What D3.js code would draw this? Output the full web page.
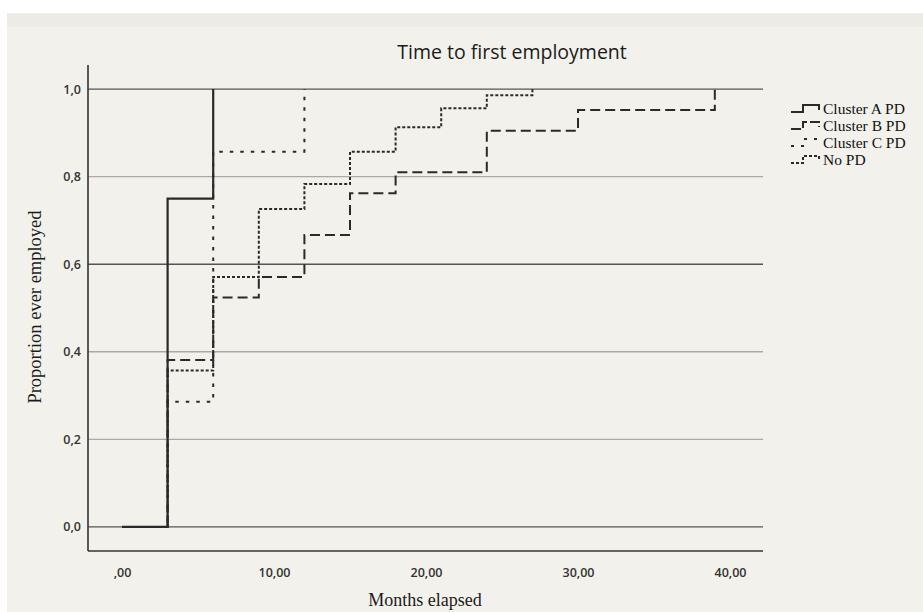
<!DOCTYPE html>
<html>
<head>
<meta charset="utf-8">
<script src="https://cdn.jsdelivr.net/npm/d3@7"></script>
<style>
  html, body { margin: 0; padding: 0; background: #ffffff; }
  svg { display: block; }
</style>
</head>
<body>
<svg id="chart" width="923" height="612"></svg>
<script>
// ---- Data ----
const seriesNames = ["Cluster A PD", "Cluster B PD", "Cluster C PD", "No PD"];
const timesA = [0, 3, 6];
const valuesA = [0, 0.75, 1.0];
const timesB = [0, 3, 6, 9, 12, 15, 18, 24, 30, 39];
const valuesB = [0, 0.381, 0.524, 0.571, 0.667, 0.762, 0.810, 0.905, 0.952, 1.0];
const timesC = [0, 3, 6, 12];
const valuesC = [0, 0.286, 0.857, 1.0];
const timesNo = [0, 3, 6, 9, 12, 15, 18, 21, 24, 27];
const valuesNo = [0, 0.357, 0.571, 0.726, 0.783, 0.857, 0.913, 0.956, 0.986, 1.0];
const xTicks = [0, 10, 20, 30, 40];
const xTickLabels = [",00", "10,00", "20,00", "30,00", "40,00"];
const yTicks = [0, 0.2, 0.4, 0.6, 0.8, 1.0];
const yTickLabels = ["0,0", "0,2", "0,4", "0,6", "0,8", "1,0"];
const titleText = "Time to first employment";
const xLabelText = "Months elapsed";
const yLabelText = "Proportion ever employed";

// ---- Layout ----
const svg = d3.select("#chart");
const W = 923, H = 612;
const plot = { left: 88, right: 763, top: 65, bottom: 551 };

svg.append("rect").attr("x", 0).attr("y", 0).attr("width", W).attr("height", H).attr("fill", "#ffffff");
svg.append("rect").attr("x", 7).attr("y", 13).attr("width", W - 7).attr("height", H - 13).attr("fill", "#f2f1ec");
svg.append("rect").attr("x", 7).attr("y", 13).attr("width", W - 7).attr("height", 14).attr("fill", "#ecebe6");

const x = d3.scaleLinear().domain([-2.237, 42.17]).range([plot.left, plot.right]);
const y = d3.scaleLinear().domain([-0.055, 1.055]).range([plot.bottom, plot.top]);

// gridlines
const darkGrid = new Set([0, 0.6, 1.0]);
svg.append("g").selectAll("line").data(yTicks).join("line")
  .attr("x1", plot.left).attr("x2", plot.right)
  .attr("y1", d => y(d)).attr("y2", d => y(d))
  .attr("stroke", d => darkGrid.has(d) ? "#555" : "#a9a9a6")
  .attr("stroke-width", 1.4);

// y axis
const yAxis = d3.axisLeft(y).tickValues(yTicks).tickSize(0).tickPadding(7)
  .tickFormat((d, i) => yTickLabels[i]);
const gy = svg.append("g").attr("transform", `translate(${plot.left},0)`).call(yAxis);
gy.select(".domain").attr("stroke", "#333").attr("stroke-width", 1.6)
  .attr("d", `M0,${plot.top}V${plot.bottom}`);
gy.selectAll("text").attr("font-family", "'Open Sans', sans-serif").attr("font-size", 12.5)
  .attr("font-weight", 600).attr("fill", "#333");

// x axis
const xAxis = d3.axisBottom(x).tickValues(xTicks).tickSize(0).tickPadding(17)
  .tickFormat((d, i) => xTickLabels[i]);
const gx = svg.append("g").attr("transform", `translate(0,${plot.bottom})`).call(xAxis);
gx.select(".domain").attr("stroke", "#333").attr("stroke-width", 1.6)
  .attr("d", `M${plot.left},0H${plot.right}`);
gx.selectAll("text").attr("font-family", "'Open Sans', sans-serif").attr("font-size", 12.5)
  .attr("font-weight", 600).attr("fill", "#333");

// series
const styles = {
  "Cluster A PD": { dash: null, width: 2.2 },
  "Cluster B PD": { dash: "10,5", width: 2 },
  "Cluster C PD": { dash: "3.5,7", width: 2 },
  "No PD": { dash: "3,2", width: 2 }
};
const series = [
  { name: "Cluster B PD", t: timesB, v: valuesB },
  { name: "Cluster C PD", t: timesC, v: valuesC },
  { name: "No PD", t: timesNo, v: valuesNo },
  { name: "Cluster A PD", t: timesA, v: valuesA }
];
const line = d3.line().x(d => x(d[0])).y(d => y(d[1])).curve(d3.curveStepAfter);
series.forEach(s => {
  const pts = s.t.map((t, i) => [t, s.v[i]]);
  svg.append("path").attr("d", line(pts)).attr("fill", "none")
    .attr("stroke", "#2a2a2a").attr("stroke-width", styles[s.name].width)
    .attr("stroke-dasharray", styles[s.name].dash);
});

// title and labels
svg.append("text").attr("x", 512).attr("y", 59).attr("text-anchor", "middle")
  .attr("font-family", "'Open Sans', sans-serif").attr("font-size", 19.5).attr("fill", "#1a1a1a")
  .text(titleText);
svg.append("text").attr("x", 425).attr("y", 606).attr("text-anchor", "middle")
  .attr("font-family", "'Liberation Serif', 'Times New Roman', serif").attr("font-size", 18).attr("fill", "#1a1a1a")
  .text(xLabelText);
svg.append("text").attr("transform", "translate(41,307) rotate(-90)").attr("text-anchor", "middle")
  .attr("font-family", "'Liberation Serif', 'Times New Roman', serif").attr("font-size", 18.5).attr("fill", "#1a1a1a")
  .text(yLabelText);

// legend
const leg = svg.append("g");
seriesNames.forEach((name, i) => {
  const ly = 109 + i * 17;
  const x0 = 791;
  leg.append("path")
    .attr("d", `M${x0},${ly + 3}H${x0 + 12}V${ly - 4}H${x0 + 28}V${ly + 1}`)
    .attr("fill", "none").attr("stroke", "#2a2a2a").attr("stroke-width", 2)
    .attr("stroke-dasharray", name === "Cluster B PD" ? "10,3" : name === "Cluster C PD" ? "3,7" : name === "No PD" ? "3,2" : null);
  leg.append("text").attr("x", 823).attr("y", ly + 5)
    .attr("font-family", "'Liberation Serif', 'Times New Roman', serif").attr("font-size", 15.5)
    .attr("fill", "#111")
    .text(name);
});
</script>
</body>
</html>
